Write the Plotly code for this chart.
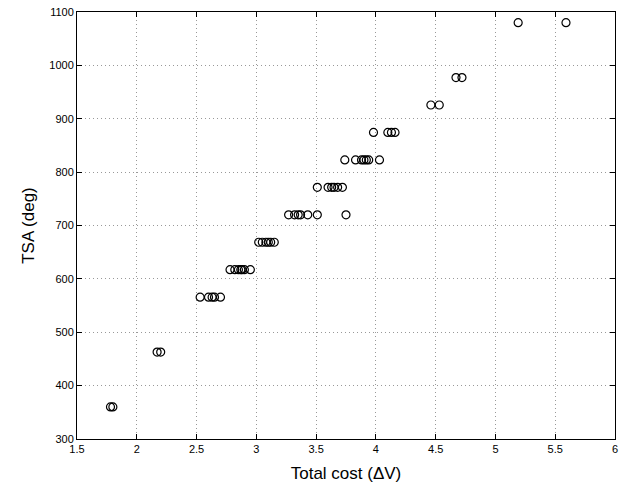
import plotly.graph_objects as go

step = 360 / 7
# (level index k -> TSA = k*360/7), x values of total cost
tsa_levels = [7, 9, 11, 12, 13, 14, 15, 16, 17, 18, 19, 21]
cost_groups = [
    [1.78, 1.80],
    [2.17, 2.20],
    [2.53, 2.60, 2.63, 2.65, 2.70],
    [2.78, 2.82, 2.85, 2.87, 2.88, 2.90, 2.95],
    [3.02, 3.05, 3.08, 3.10, 3.12, 3.15],
    [3.27, 3.32, 3.35, 3.37, 3.43, 3.51, 3.75],
    [3.51, 3.60, 3.63, 3.65, 3.68, 3.72],
    [3.74, 3.83, 3.88, 3.90, 3.92, 3.94, 4.03],
    [3.98, 4.10, 4.13, 4.16],
    [4.46, 4.53],
    [4.67, 4.72],
    [5.19, 5.59],
]

xs, ys = [], []
for k, grp in zip(tsa_levels, cost_groups):
    for c in grp:
        xs.append(c)
        ys.append(k * step)

fig = go.Figure(go.Scatter(
    x=xs, y=ys, mode="markers",
    marker=dict(symbol="circle-open", size=8, color="black", line=dict(width=1.2)),
))

axis_common = dict(
    showline=True, linecolor="black", linewidth=1, mirror="ticks",
    ticks="inside", ticklen=5, tickcolor="black",
    showgrid=True, gridcolor="#999999", griddash="1px,3px", gridwidth=1,
    zeroline=False, ticklabeloverflow="allow",
    tickfont=dict(family="Liberation Sans, Arial", size=11, color="black"),
)

fig.update_layout(
    width=621, height=498,
    margin=dict(l=77, r=3, t=12, b=59),
    plot_bgcolor="white", paper_bgcolor="white",
    showlegend=False,
    xaxis=dict(range=[1.5, 6], dtick=0.5, tick0=1.5,
               title=dict(text="Total cost (ΔV)", standoff=12,
                          font=dict(family="Liberation Sans, Arial", size=17, color="black")),
               **axis_common),
    yaxis=dict(range=[300, 1100], dtick=100,
               title=dict(text="TSA (deg)", standoff=10,
                          font=dict(family="Liberation Sans, Arial", size=17, color="black")),
               **axis_common),
)

fig.write_html("out.html")
